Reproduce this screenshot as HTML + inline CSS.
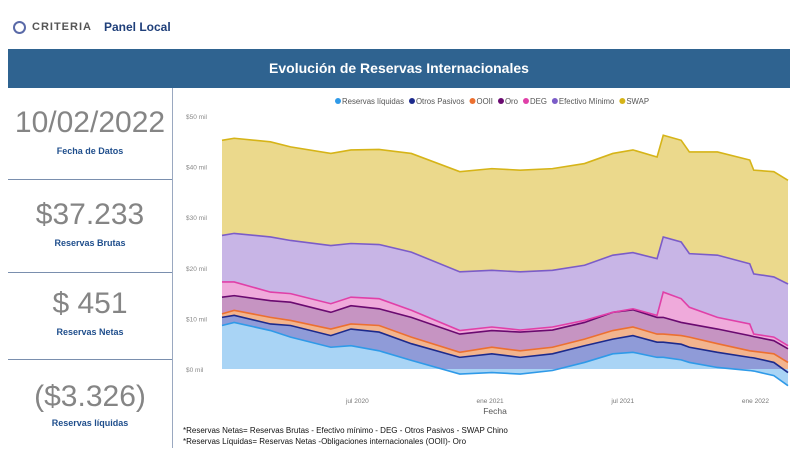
<!DOCTYPE html>
<html><head><meta charset="utf-8">
<style>
body{margin:0;width:800px;height:454px;background:#fff;font-family:"Liberation Sans",sans-serif;position:relative;overflow:hidden}
.a{position:absolute}
.big{position:absolute;left:8px;width:164px;text-align:center;color:#858585;font-size:30px;font-weight:300}
.lab{position:absolute;left:8px;width:164px;text-align:center;color:#1f4e8c;font-size:9px;font-weight:bold}
.sep{position:absolute;left:8px;width:164px;height:1px;background:#7a8fae}
</style></head><body>
<div class="a" style="left:13px;top:21px;width:9px;height:9px;border:2px solid #5a6aa8;border-radius:50%"></div>
<div class="a" style="left:32px;top:21px;font-size:11px;color:#555;letter-spacing:1px;font-weight:bold">CRITERIA</div>
<div class="a" style="left:104px;top:20px;font-size:12px;color:#1f3f7a;font-weight:bold">Panel Local</div>
<div class="a" style="left:8px;top:49px;width:782px;height:39px;background:#2f6390;color:#fff;font-weight:bold;font-size:14px;text-align:center;line-height:39px">Evolución de Reservas Internacionales</div>
<div class="a" style="left:172px;top:88px;width:1px;height:360px;background:#9aa8c0"></div>

<div class="big" style="top:106px">10/02/2022</div>
<div class="lab" style="top:146px">Fecha de Datos</div>
<div class="sep" style="top:179px"></div>
<div class="big" style="top:198px">$37.233</div>
<div class="lab" style="top:238px">Reservas Brutas</div>
<div class="sep" style="top:272px"></div>
<div class="big" style="top:287px">$ 451</div>
<div class="lab" style="top:327px">Reservas Netas</div>
<div class="sep" style="top:359px"></div>
<div class="big" style="top:380px">($3.326)</div>
<div class="lab" style="top:418px">Reservas líquidas</div>

<svg class="a" style="left:0;top:0" width="800" height="454" id="chart"></svg>

<div class="a" style="left:183px;top:426px;font-size:8px;color:#111">*Reservas Netas= Reservas Brutas - Efectivo mínimo - DEG - Otros Pasivos - SWAP Chino</div>
<div class="a" style="left:183px;top:437px;font-size:8px;color:#111">*Reservas Líquidas= Reservas Netas -Obligaciones internacionales (OOII)- Oro</div>

<script>
const months=[-0.12,0.43,2.07,2.98,4.80,5.71,6.98,8.44,10.63,12.08,13.36,14.82,16.27,17.55,18.46,19.55,19.83,20.64,21.01,22.28,23.74,23.92,24.83,25.47];
const swap=[45.2,45.6,44.9,43.9,42.6,43.3,43.4,42.6,39.0,39.6,39.3,39.6,40.6,42.6,43.3,41.9,46.2,45.2,42.9,42.9,41.3,39.3,39.0,37.3];
const efectivo=[26.4,26.8,26.1,25.4,24.4,24.8,24.6,23.1,19.2,19.5,19.2,19.5,20.5,22.5,23.0,21.8,26.1,25.1,22.8,22.5,20.8,18.8,18.2,16.8];
const deg=[17.2,17.2,15.2,14.9,12.9,14.2,13.9,11.6,7.6,8.3,7.7,8.3,9.6,11.2,11.9,10.6,15.2,13.9,12.2,10.2,8.9,6.9,6.3,4.6];
const oro=[14.2,14.5,13.5,13.2,11.2,12.5,11.9,10.2,6.9,7.6,7.3,7.7,9.2,11.2,11.7,10.2,10.2,9.2,8.9,7.9,6.6,6.4,5.6,4.0];
const ooii=[10.9,11.6,10.2,9.6,7.9,8.9,8.6,6.3,3.3,4.3,3.6,4.3,5.9,7.6,8.3,6.9,6.9,6.6,6.3,5.0,3.6,3.5,3.0,1.3];
const otros=[10.2,10.6,8.9,8.6,6.6,7.9,7.3,5.0,2.3,3.0,2.3,3.0,4.6,5.9,6.6,5.3,5.3,4.9,4.3,3.3,2.3,2.2,1.3,-0.7];
const liquidas=[8.6,9.2,7.6,6.3,4.3,4.6,3.6,1.7,-1.0,-0.7,-1.0,-0.3,1.3,3.0,3.3,2.3,2.3,1.8,1.3,0.3,-0.3,-0.4,-1.3,-3.3];
const yTicks=[0,10,20,30,40,50];
const xTickMonths=[6,12,18,24];
const xTickLabels=["jul 2020","ene 2021","jul 2021","ene 2022"];
const legendNames=["Reservas líquidas","Otros Pasivos","OOII","Oro","DEG","Efectivo Mínimo","SWAP"];

const svg=document.getElementById('chart');const NS='http://www.w3.org/2000/svg';
const X=m=>222+(m-(-0.12))/(25.47-(-0.12))*566;
const Y=v=>369-v*5.06;
function mk(t,a){const e=document.createElementNS(NS,t);for(const k in a)e.setAttribute(k,a[k]);svg.appendChild(e);return e;}
function linePts(arr){return months.map((m,i)=>[X(m),Y(arr[i])]);}
yTicks.forEach(v=>{const t=mk('text',{x:186,y:Y(v)+3,'font-size':'6.5','fill':'#888'});t.textContent='$'+v+' mil';

});
xTickMonths.forEach((m,i)=>{const t=mk('text',{x:X(m),y:403,'font-size':'6.5','fill':'#777','text-anchor':'middle'});t.textContent=xTickLabels[i];

});
const xt=mk('text',{x:495,y:414,'font-size':'8.5','fill':'#555','text-anchor':'middle'});xt.textContent='Fecha';


const layers=[
 [swap,efectivo,'#ebd98c','#d6b418','swap'],
 [efectivo,deg,'#c8b5e6','#7b5cc8','efectivo-minimo'],
 [deg,oro,'#efaadb','#e040a8','deg'],
 [oro,ooii,'#c694c2','#6a0a70','oro'],
 [ooii,otros,'#f2b48e','#ec7030','ooii'],
 [otros,liquidas,'#8f9bd8','#1c2a8c','otros-pasivos'],
 [liquidas,null,'#a9d4f5','#2f9ae8','reservas-liquidas']];
layers.forEach(([top,bot,fill,stroke,name])=>{
 const tp=linePts(top);
 const bp=bot?linePts(bot).reverse():[[X(months[months.length-1]),Y(0)],[X(months[0]),Y(0)]];
 const a=mk('polygon',{points:tp.concat(bp).map(p=>p.join(',')).join(' '),fill:fill});
 
 
});
layers.slice().reverse().forEach(([top,bot,fill,stroke,name])=>{
 const l=mk('polyline',{points:linePts(top).map(p=>p.join(',')).join(' '),fill:'none',stroke:stroke,'stroke-width':'1.6'});
 
 
});
const legColors=['#2f9ae8','#1c2a8c','#ec7030','#6a0a70','#e040a8','#7b5cc8','#d6b418'];
let lx=335;
legendNames.forEach((n,i)=>{
 const c=mk('circle',{cx:lx+3,cy:101,r:3,fill:legColors[i]});
 
 
 const t=mk('text',{x:lx+7,y:104,'font-size':'7.8','fill':'#555'});t.textContent=n;
 
 
 lx+=10+t.getComputedTextLength()+2;
});
</script>
</body></html>
